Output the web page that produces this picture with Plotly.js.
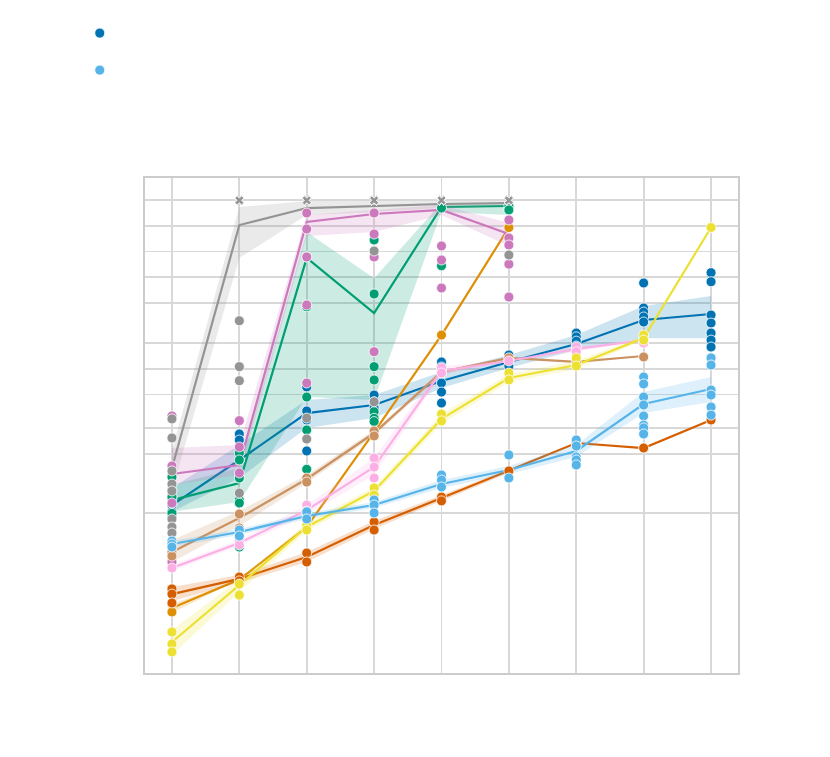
<!DOCTYPE html>
<html>
<head>
<meta charset="utf-8">
<script src="https://cdn.plot.ly/plotly-3.0.1.min.js"></script>
<style>
html, body { margin: 0; padding: 0; background: #fff; }
#chart { width: 830px; height: 757px; }
</style>
</head>
<body>
<div id="chart"></div>
<script>
var steps = [1, 2, 3, 4, 5, 6, 7, 8, 9];
var T = 4800; // timeout value, drawn as x
var yTicks = [1, 5, 10, 25, 50, 100, 300, 600, 1200, 2400, 4800];

var blueMean = [1.25, 4.24, 15.1, 18.8, 36.0, 60.3, 98.1, 188, 221];
var blueLo = [1.04, 2.60, 10.1, 13.2, 29.8, 51.2, 83.4, 115, 115];
var blueHi = [1.99, 6.36, 21.5, 24.6, 45.9, 72.8, 125, 275, 360];
var bluePts = [[1.51, 1.25, 1.04, 0.9], [8.57, 7.28, 4.24, 2.60, 1.43], [30.6, 16.0, 12.5, 5.41], [24.6, 20.4, 17.3],
  [60.3, 52.6, 34.1, 26.7, 19.8], [72.8, 63.6, 54.0], [132, 119, 106, 92.9], [512, 260, 233, 204, 178],
  [677, 530, 215, 173, 132, 109, 90.4]];

var orangeMean = [0.0769, 0.166, 0.690, 9.04, 125, 2300];
var orangeLo = [0.0672, 0.166, 0.690, 9.04, 125, 2300];
var orangeHi = [0.0858, 0.166, 0.690, 9.04, 125, 2300];
var orangePts = [[0.0858, 0.069], [0.166], [0.690], [9.04], [125], [2300]];

var greenMean = [1.43, 2.27, 1008, 227, 4010, 4120];
var greenLo = [1.04, 1.36, 23.3, 21.5, 3500, 3230];
var greenHi = [2.15, 3.41, 2038, 583, 4470, 4470];
var greenPts = [[2.67, 1.88, 1.56, 1.0], [5.12, 4.24, 2.60, 1.43, 1.32, 0.401], [T, 1035, 269, 23.3, 9.55, 3.29],
  [1641, 380, 53.1, 37.0, 15.7, 13.1, 12.0], [T, T, T, T, T, 3900, 815], [T, T, 4120, 3700]];

var redMean = [0.112, 0.169, 0.306, 0.728, 1.51, 3.15, 6.71, 5.86, 12.5];
var redLo = [0.0929, 0.152, 0.268, 0.654, 1.40, 2.98, 6.71, 5.86, 12.5];
var redHi = [0.136, 0.188, 0.350, 0.812, 1.64, 3.32, 6.71, 5.86, 12.5];
var redPts = [[0.129, 0.112, 0.0881], [0.178, 0.160], [0.341, 0.268], [0.790, 0.636], [1.555, 1.40], [3.15], [6.71], [5.86], [12.5]];

var purpleMean = [2.90, 3.70, 2670, 3320, 3700, 1930];
var purpleLo = [2.15, 2.82, 1830, 2040, 3230, 1395];
var purpleHi = [5.86, 6.36, 3230, 3700, 4235, 2601];
var purplePts = [[13.95, 3.60, 1.32, 0.268], [12.3, 6.03, 2.98, 0.541], [T, T, T, 3408, 2210, 1035, 282, 34.1],
  [T, T, T, T, 3408, 1930, 1035, 79.6], [T, T, T, T, T, T, 1395, 954, 447], [T, 2822, 1732, 1433, 853, 350]];

var brownMean = [0.350, 0.880, 2.53, 8.80, 45.9, 67.3, 60.3, 70.9];
var brownLo = [0.268, 0.709, 2.27, 8.12, 42.4, 67.3, 60.3, 70.9];
var brownHi = [0.485, 1.064, 2.82, 9.55, 48.5, 67.3, 60.3, 70.9];
var brownPts = [[0.401, 0.350, 0.314], [0.981, 0.672], [2.60, 2.33], [9.29, 8.12], [45.9], [67.3], [60.3], [69.0]];

var pinkMean = [0.227, 0.447, 1.09, 3.50, 47.2, 61.9, 85.7, 109];
var pinkLo = [0.210, 0.412, 0.955, 2.82, 42.4, 61.9, 79.6, 109];
var pinkHi = [0.247, 0.485, 1.25, 4.47, 54.0, 61.9, 92.9, 109];
var pinkPts = [[0.227], [0.472, 0.424], [1.25, 1.06], [4.47, 3.50, 2.60], [51.2, 44.7], [61.9], [90.4, 79.6], [109, 100.8]];

var grayMean = [3.41, 2460, 3900, 4120, 4350, 4470];
var grayLo = [1.88, 1008, 3230, 3500, 3900, 4120];
var grayHi = [5.56, 4010, 4720, 4720, 4720, 4720];
var grayPts = [[12.9, 7.69, 3.15, 2.21, 1.83, 0.857, 0.690, 0.586], [T, T, T, T, 184, 53.1, 36.3, 1.73],
  [T, T, T, T, T, T, T, T, 13.2, 7.48], [T, T, T, T, T, T, T, T, T, T, 1218, 20.5], [T, T, T, T, T, T],
  [T, T, T, T, T, T, T, T, T, T, 1093]];

var yellowMean = [0.0306, 0.143, 0.690, 1.83, 12.9, 39.1, 55.5, 115, 2300];
var yellowLo = [0.0215, 0.119, 0.619, 1.64, 11.2, 35.0, 49.8, 109, 2300];
var yellowHi = [0.0424, 0.166, 0.769, 2.04, 14.7, 43.5, 61.9, 122, 2300];
var yellowPts = [[0.0402, 0.0290, 0.0234], [0.147, 0.109], [0.728, 0.636], [1.985, 1.64], [14.7, 12.2], [44.7, 37.0],
  [67.3, 54.0], [125, 109], [2300]];

var skyMean = [0.435, 0.603, 0.929, 1.252, 2.21, 3.23, 5.41, 19.3, 29.0];
var skyLo = [0.401, 0.556, 0.857, 1.154, 1.985, 2.90, 4.59, 15.1, 20.4];
var skyHi = [0.472, 0.654, 1.008, 1.358, 2.46, 3.60, 6.36, 26.7, 40.1];
var skyPts = [[0.472, 0.435, 0.401], [0.636, 0.541], [1.04, 0.857], [1.434, 1.252, 1.008], [2.82, 2.46, 2.04],
  [4.85, 2.60], [7.28, 6.19, 4.59, 4.24, 3.70], [40.1, 33.2, 23.3, 18.8, 13.95, 10.9, 10.1, 8.57],
  [67.3, 55.5, 28.2, 24.6, 17.8, 14.3]];

var series = [
  {color: '#0173b2', mean: blueMean, lo: blueLo, hi: blueHi, pts: bluePts, legend: true},
  {color: '#de8f05', mean: orangeMean, lo: orangeLo, hi: orangeHi, pts: orangePts},
  {color: '#029e73', mean: greenMean, lo: greenLo, hi: greenHi, pts: greenPts},
  {color: '#d55e00', mean: redMean, lo: redLo, hi: redHi, pts: redPts},
  {color: '#cc78bc', mean: purpleMean, lo: purpleLo, hi: purpleHi, pts: purplePts},
  {color: '#ca9161', mean: brownMean, lo: brownLo, hi: brownHi, pts: brownPts},
  {color: '#fbafe4', mean: pinkMean, lo: pinkLo, hi: pinkHi, pts: pinkPts},
  {color: '#949494', mean: grayMean, lo: grayLo, hi: grayHi, pts: grayPts},
  {color: '#ece133', mean: yellowMean, lo: yellowLo, hi: yellowHi, pts: yellowPts},
  {color: '#56b4e9', mean: skyMean, lo: skyLo, hi: skyHi, pts: skyPts, legend: true}
];

function rgba(hex, a) {
  var n = parseInt(hex.slice(1), 16);
  return 'rgba(' + (n >> 16) + ',' + ((n >> 8) & 255) + ',' + (n & 255) + ',' + a + ')';
}

var data = [];
series.forEach(function (s, i) {
  var xs = steps.slice(0, s.mean.length);
  data.push({x: xs, y: s.lo, mode: 'lines', line: {width: 0}, showlegend: false, hoverinfo: 'skip'});
  data.push({x: xs, y: s.hi, mode: 'lines', line: {width: 0}, fill: 'tonexty',
    fillcolor: rgba(s.color, 0.2), showlegend: false, hoverinfo: 'skip'});
  data.push({x: xs, y: s.mean, mode: 'lines', line: {color: s.color, width: 2.2}, showlegend: false});
});

series.forEach(function (s, i) {
  var px = [], py = [], sym = [], size = [];
  s.pts.forEach(function (vals, k) {
    vals.forEach(function (v) {
      px.push(steps[k]);
      py.push(v);
      sym.push(v === T ? 'x' : 'circle');
      size.push(v === T ? 8 : 10);
    });
  });
  data.push({
    x: px, y: py, mode: 'markers', name: '', legendgroup: 'g' + i,
    showlegend: !!s.legend,
    marker: {color: s.color, size: size, opacity: 1, symbol: sym, line: {color: '#ffffff', width: 0.8}}
  });
});

var layout = {
  width: 830,
  height: 757,
  paper_bgcolor: '#ffffff',
  plot_bgcolor: '#ffffff',
  margin: {l: 145, r: 92, t: 178, b: 84},
  showlegend: true,
  legend: {x: -0.11, xanchor: 'left', y: 1.322, yanchor: 'top', traceorder: 'grouped',
    tracegroupgap: 18, font: {size: 12, family: 'DejaVu Sans'}, bgcolor: 'rgba(0,0,0,0)'},
  xaxis: {
    range: [0.6, 9.4], tickvals: steps, showticklabels: false, ticks: '',
    showgrid: true, gridcolor: '#d8d8d8', gridwidth: 1.8,
    zeroline: false, showline: true, mirror: true, linecolor: '#cccccc', linewidth: 1.8
  },
  yaxis: {
    type: 'log', range: [-1.8787, 3.9444], tickvals: yTicks, showticklabels: false, ticks: '',
    showgrid: true, gridcolor: '#d8d8d8', gridwidth: 1.8,
    zeroline: false, showline: true, mirror: true, linecolor: '#cccccc', linewidth: 1.8
  }
};

Plotly.newPlot('chart', data, layout, {displayModeBar: false, staticPlot: true});
</script>
</body>
</html>
